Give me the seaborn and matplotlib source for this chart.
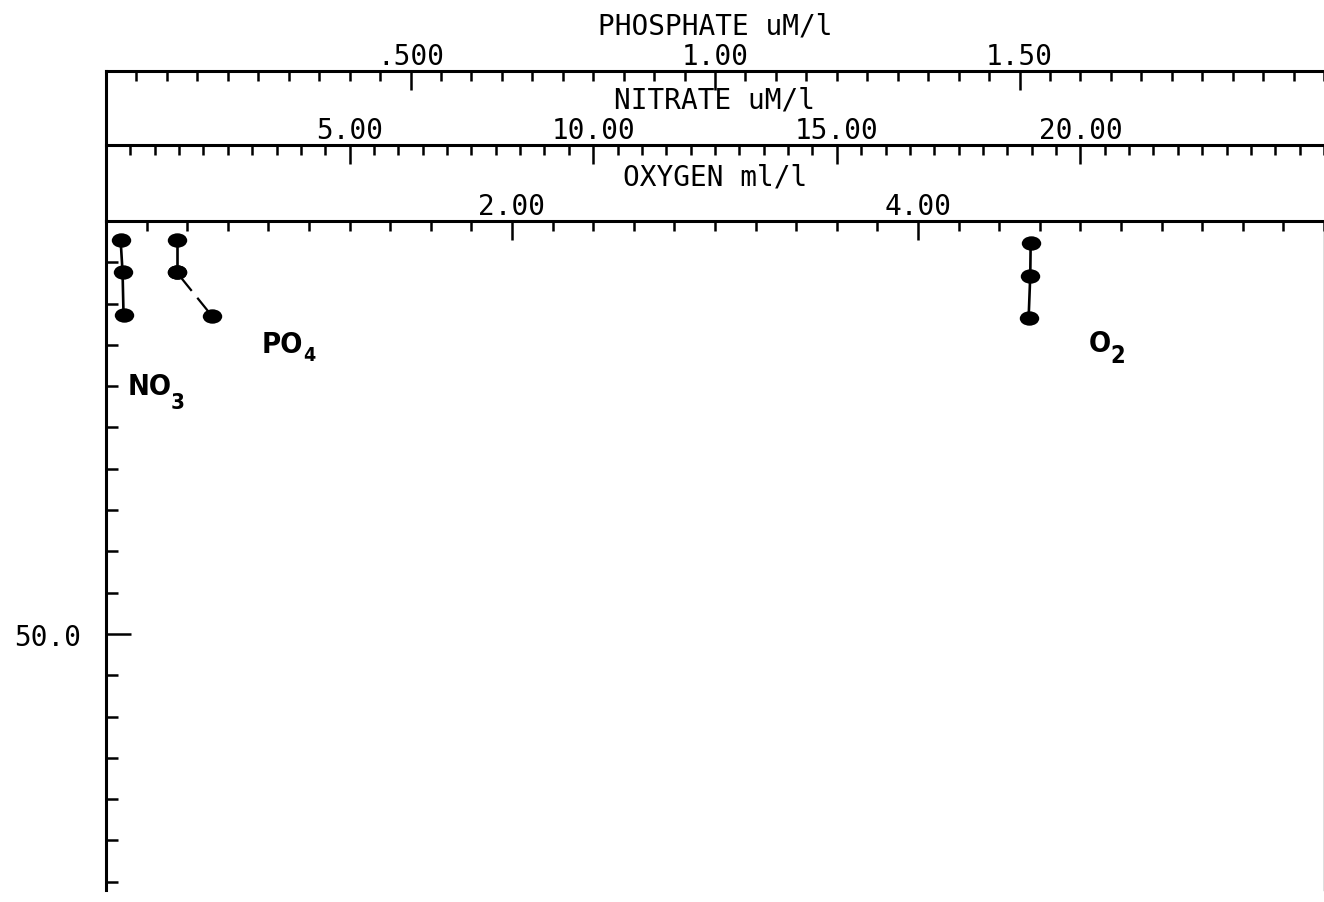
import matplotlib
matplotlib.use('Agg')
import matplotlib.pyplot as plt
import seaborn as sns
from matplotlib.path import Path
from matplotlib.transforms import Affine2D
from matplotlib.ticker import FixedLocator, MultipleLocator, NullFormatter

# ---------------------------------------------
# Data
# ---------------------------------------------
depth_no3 = [2.3, 6.2, 11.4]
nitrate = [0.30, 0.34, 0.36]

depth_po4 = [2.3, 6.2, 11.5]
phosphate = [0.116, 0.116, 0.174]

depth_o2 = [2.7, 6.6, 11.7]
oxygen = [4.555, 4.553, 4.545]

phos_ticks = [0.5, 1.0, 1.5]
phos_labels = ['.500', '1.00', '1.50']
nit_ticks = [5, 10, 15, 20]
nit_labels = ['5.00', '10.00', '15.00', '20.00']
oxy_ticks = [2, 4]
oxy_labels = ['2.00', '4.00']
depth_ticks = [50]
depth_labels = ['50.0']

# ---------------------------------------------
# Style
# ---------------------------------------------
sns.set_theme(style='white')
plt.rcParams['font.family'] = ['DejaVu Sans Mono', 'DejaVu Sans']
plt.rcParams['axes.edgecolor'] = 'black'
plt.rcParams['axes.labelcolor'] = 'black'
plt.rcParams['text.color'] = 'black'

label_font = dict(family=['DejaVu Sans'], fontstretch='condensed',
                  fontweight='bold', color='black')

# flat oval blob used for the sample points
blob = Path.unit_circle().transformed(Affine2D().scale(1.0, 0.74))

fig = plt.figure(figsize=(13.24, 9.03), dpi=100)
ax = fig.add_axes([106 / 1324, 12 / 903, 1 - 106 / 1324, 669 / 903])
ax_n = ax.twiny()
ax_p = ax.twiny()

# ---------------------------------------------
# Profiles
# ---------------------------------------------
pt = dict(color='black', marker=blob, markersize=14, markeredgewidth=0,
          estimator=None, sort=False, legend=False)

sns.lineplot(x=nitrate, y=depth_no3, ax=ax_n, lw=1.9, **pt)
sns.lineplot(x=phosphate[:2], y=depth_po4[:2], ax=ax_p, lw=1.9, **pt)
sns.lineplot(x=phosphate[1:], y=depth_po4[1:], ax=ax_p, lw=1.6,
             linestyle=(0, (10.8, 4)), **pt)
sns.lineplot(x=oxygen, y=depth_o2, ax=ax, lw=1.9, **pt)

# ---------------------------------------------
# Axes: depth downwards, three stacked top scales
# ---------------------------------------------
ax.set_ylim(81, 0)
ax.set_xlim(0, 6)
ax_n.set_xlim(0, 25)
ax_p.set_xlim(0, 2.0)

for a in (ax, ax_n, ax_p):
    a.set_ylabel('')
    a.grid(False)
    for s in ('bottom', 'right', 'left'):
        a.spines[s].set_visible(False)
    a.spines['top'].set_linewidth(2.2)
    a.xaxis.tick_top()
    a.xaxis.set_label_position('top')
    a.tick_params(axis='x', which='both', direction='in', width=1.8,
                  color='black', labelsize=20, pad=1, labelcolor='black')
    a.tick_params(axis='x', which='major', length=14)
    a.tick_params(axis='x', which='minor', length=7)

ax_n.spines['top'].set_position(('axes', 1 + 76 / 669))
ax_p.spines['top'].set_position(('axes', 1 + 150 / 669))

ax.xaxis.set_major_locator(FixedLocator(oxy_ticks))
ax.set_xticklabels(oxy_labels)
ax.xaxis.set_minor_locator(MultipleLocator(0.2))
ax.set_xlabel('OXYGEN ml/l', fontsize=20, labelpad=5)

ax_n.xaxis.set_major_locator(FixedLocator(nit_ticks))
ax_n.set_xticklabels(nit_labels)
ax_n.xaxis.set_minor_locator(MultipleLocator(0.5))
ax_n.set_xlabel('NITRATE uM/l', fontsize=20, labelpad=5.5)

ax_p.xaxis.set_major_locator(FixedLocator(phos_ticks))
ax_p.set_xticklabels(phos_labels)
ax_p.xaxis.set_minor_locator(MultipleLocator(0.05))
ax_p.set_xlabel('PHOSPHATE uM/l', fontsize=20, labelpad=5.5)

ax_n.tick_params(axis='y', which='both', left=False, right=False,
                 labelleft=False, labelright=False)
ax_p.tick_params(axis='y', which='both', left=False, right=False,
                 labelleft=False, labelright=False)

# depth axis on the left
ax.spines['left'].set_visible(True)
ax.spines['left'].set_linewidth(2.2)
ax.spines['right'].set_visible(True)
ax.spines['right'].set_linewidth(1.0)
ax.spines['right'].set_color('0.35')
ax.yaxis.set_major_locator(FixedLocator(depth_ticks))
ax.set_yticklabels(depth_labels)
ax.yaxis.set_minor_locator(MultipleLocator(5))
ax.yaxis.set_minor_formatter(NullFormatter())
ax.tick_params(axis='y', which='both', direction='in', width=1.8,
               color='black', left=True, right=False, labelsize=20,
               labelcolor='black', pad=18)
ax.tick_params(axis='y', which='major', length=18)
ax.tick_params(axis='y', which='minor', length=8.5)

# left frame carried up through the scale bands
ax.plot([0, 0], [1, 1 + 150 / 669], transform=ax.transAxes, clip_on=False,
        color='black', lw=2.2, solid_capstyle='projecting')

# ---------------------------------------------
# Profile names (subscript hung off the end of each name)
# ---------------------------------------------
t = ax_n.text(0.45, 20.9, 'NO', fontsize=21, va='baseline', ha='left', **label_font)
ax_n.annotate('3', xy=(1, 0), xycoords=t, xytext=(-1.0, -5.8),
              textcoords='offset points', fontsize=16, va='baseline', ha='left',
              **label_font)

t = ax_p.text(0.256, 15.9, 'PO', fontsize=21, va='baseline', ha='left', **label_font)
ax_p.annotate('4', xy=(1, 0), xycoords=t, xytext=(0.2, -1.5),
              textcoords='offset points', fontsize=14, va='baseline', ha='left',
              **label_font)

t = ax.text(4.84, 15.7, 'O', fontsize=21, va='baseline', ha='left', **label_font)
ax.annotate('2', xy=(1, 0), xycoords=t, xytext=(-0.5, -3.6),
            textcoords='offset points', fontsize=17, va='baseline', ha='left',
            **label_font)

fig.savefig('out.png', dpi=100, facecolor='white')
